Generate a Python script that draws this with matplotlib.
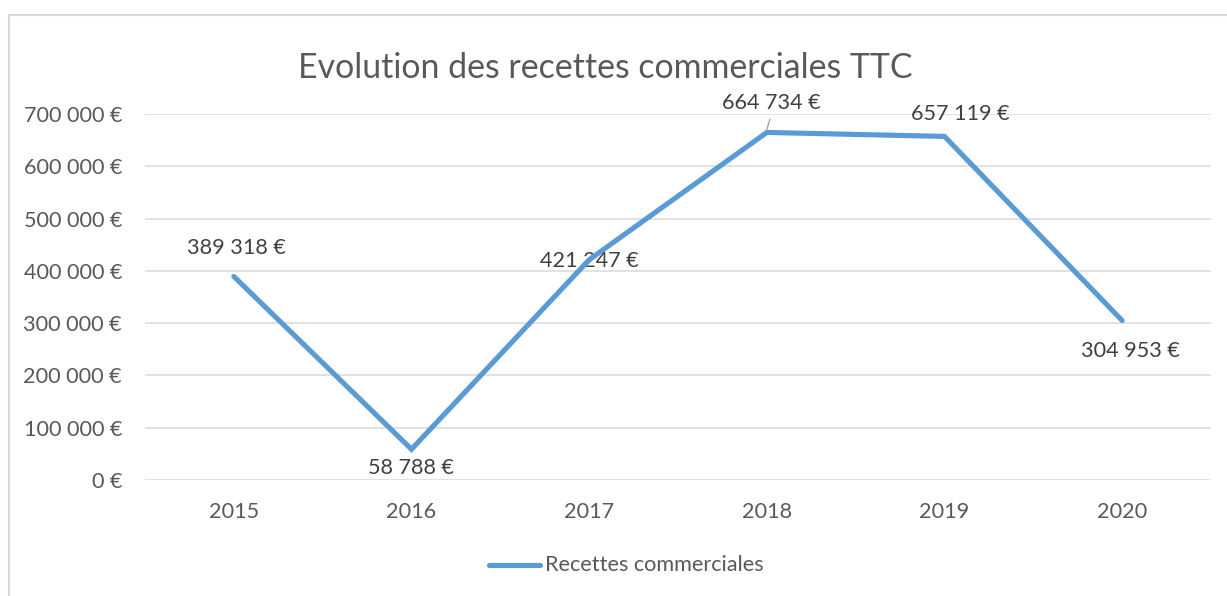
import matplotlib
matplotlib.use("Agg")
import matplotlib.pyplot as plt
from matplotlib.patches import Rectangle
from matplotlib.lines import Line2D

years = ["2015", "2016", "2017", "2018", "2019", "2020"]
recettes = [389318, 58788, 421247, 664734, 657119, 304953]
yticks = [0, 100000, 200000, 300000, 400000, 500000, 600000, 700000]
title = "Evolution des recettes commerciales TTC"
series_name = "Recettes commerciales"

def euro(v):
    return f"{v:,}".replace(",", " ") + " €"

plt.rcParams['font.family'] = ['Lato', 'DejaVu Sans']
TXT = "#595959"
LBL = "#404040"
BLUE = "#5B9BD5"
GRID = "#D9D9D9"
FS = 15.6

W, H = 1227, 596
fig = plt.figure(figsize=(W / 100, H / 100), dpi=100)
fig.patch.set_facecolor("white")

# outer chart border (light gray), cut at right/bottom
fig.add_artist(Rectangle((9 / W, -0.1), 1.2, 1 - 15 / H + 0.1, transform=fig.transFigure,
                         fill=False, edgecolor=GRID, linewidth=1.5))

ax = fig.add_axes([145 / W, 1 - 480 / H, (1211 - 145) / W, (480 - 114) / H])
x = list(range(len(years)))
ax.plot(x, recettes, color=BLUE, linewidth=3.7, solid_capstyle="round", solid_joinstyle="miter", zorder=3)
ax.set_xlim(-0.5, len(years) - 0.5)
ax.set_ylim(0, 700000)
ax.set_yticks(yticks)
ax.set_yticklabels([euro(v) for v in yticks])
ax.set_xticks(x)
ax.set_xticklabels(years)
ax.tick_params(axis="both", length=0, labelsize=FS, labelcolor=TXT)
ax.tick_params(axis="y", pad=16.5)
ax.tick_params(axis="x", pad=16)
ax.grid(axis="y", color=GRID, linewidth=1.1)
ax.set_axisbelow(True)
for s in ax.spines.values():
    s.set_visible(False)

offsets = [(3, 28), (0, -19), (0, -1), (4, 29), (16, 22), (8, -30)]
for xi, v, (dx, dy) in zip(x, recettes, offsets):
    ax.annotate(euro(v), (xi, v), xytext=(dx, dy), textcoords="offset pixels",
                ha="center", va="center", fontsize=FS, color=LBL, zorder=2.5)

# leader line for 2018 label
ax.plot([3, 3 + 3 / 177.8], [recettes[3] + 3 / 0.000523, recettes[3] + 13 / 0.000523],
        color="#A6A6A6", linewidth=1, zorder=4)

fig.text(605 / W, 1 - 68 / H, title, ha="center", va="center", fontsize=24.4, color=TXT)

# legend
fig.add_artist(Line2D([489 / W, 540 / W], [1 - 565 / H, 1 - 565 / H], transform=fig.transFigure,
                      color=BLUE, linewidth=3.7, solid_capstyle="round"))
fig.text(545 / W, 1 - 565 / H, series_name, ha="left", va="center", fontsize=FS, color=TXT)

fig.savefig("out.png", dpi=100)
